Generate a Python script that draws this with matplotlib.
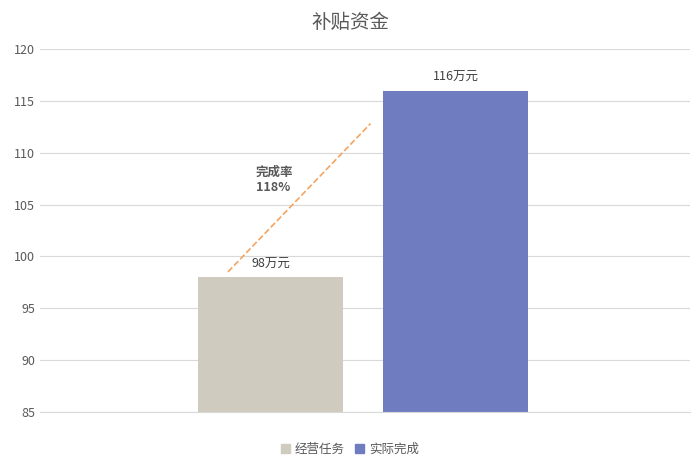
import matplotlib
matplotlib.use('Agg')
import matplotlib.pyplot as plt
from matplotlib.patches import Patch

plt.rcParams['font.family'] = ['Noto Sans CJK SC', 'DejaVu Sans']

categories = ['经营任务', '实际完成']
values = [98, 116]
bar_labels = ['98万元', '116万元']
colors = ['#CFCBBE', '#6F7DC0']
rate_text = '完成率\n118%'

fig = plt.figure(figsize=(7, 4.67), dpi=100)
ax = fig.add_axes([0.057, 0.118, 0.929, 0.777])

x = [0, 1]
ax.bar(x, [v - 85 for v in values], bottom=85, width=0.784, color=colors, zorder=2)
for xi, v, lab in zip(x, values, bar_labels):
    ax.text(xi, v + 0.6, lab, ha='center', va='bottom', fontsize=9, color='#404040')

# trend arrow line between the bars
ax.plot([-0.23, 0.54], [98.5, 112.8], linestyle='--', color='#F4A460', linewidth=1.2, zorder=3)
ax.text(-0.08, 107.4, rate_text, ha='left', va='center', fontsize=9,
        fontweight='bold', color='#595959')

ax.set_xlim(-1.246, 2.268)
ax.set_ylim(85, 120)
ax.set_yticks(range(85, 121, 5))
ax.set_xticks([])
ax.grid(axis='y', color='#D9D9D9', linewidth=0.8, zorder=0)
for s in ['top', 'right', 'left']:
    ax.spines[s].set_visible(False)
ax.spines['bottom'].set_color('#D9D9D9')
ax.tick_params(axis='y', length=0, labelsize=9, labelcolor='#595959')

fig.suptitle('补贴资金', y=0.975, fontsize=14, color='#595959')
handles = [Patch(color=c, label=l) for c, l in zip(colors, categories)]
fig.legend(handles=handles, loc='lower center', bbox_to_anchor=(0.5, 0.0), ncol=2,
           frameon=False, fontsize=9, handlelength=0.7, handleheight=0.7,
           columnspacing=0.8, handletextpad=0.4, labelcolor='#595959')

fig.savefig('out.png', dpi=100)
